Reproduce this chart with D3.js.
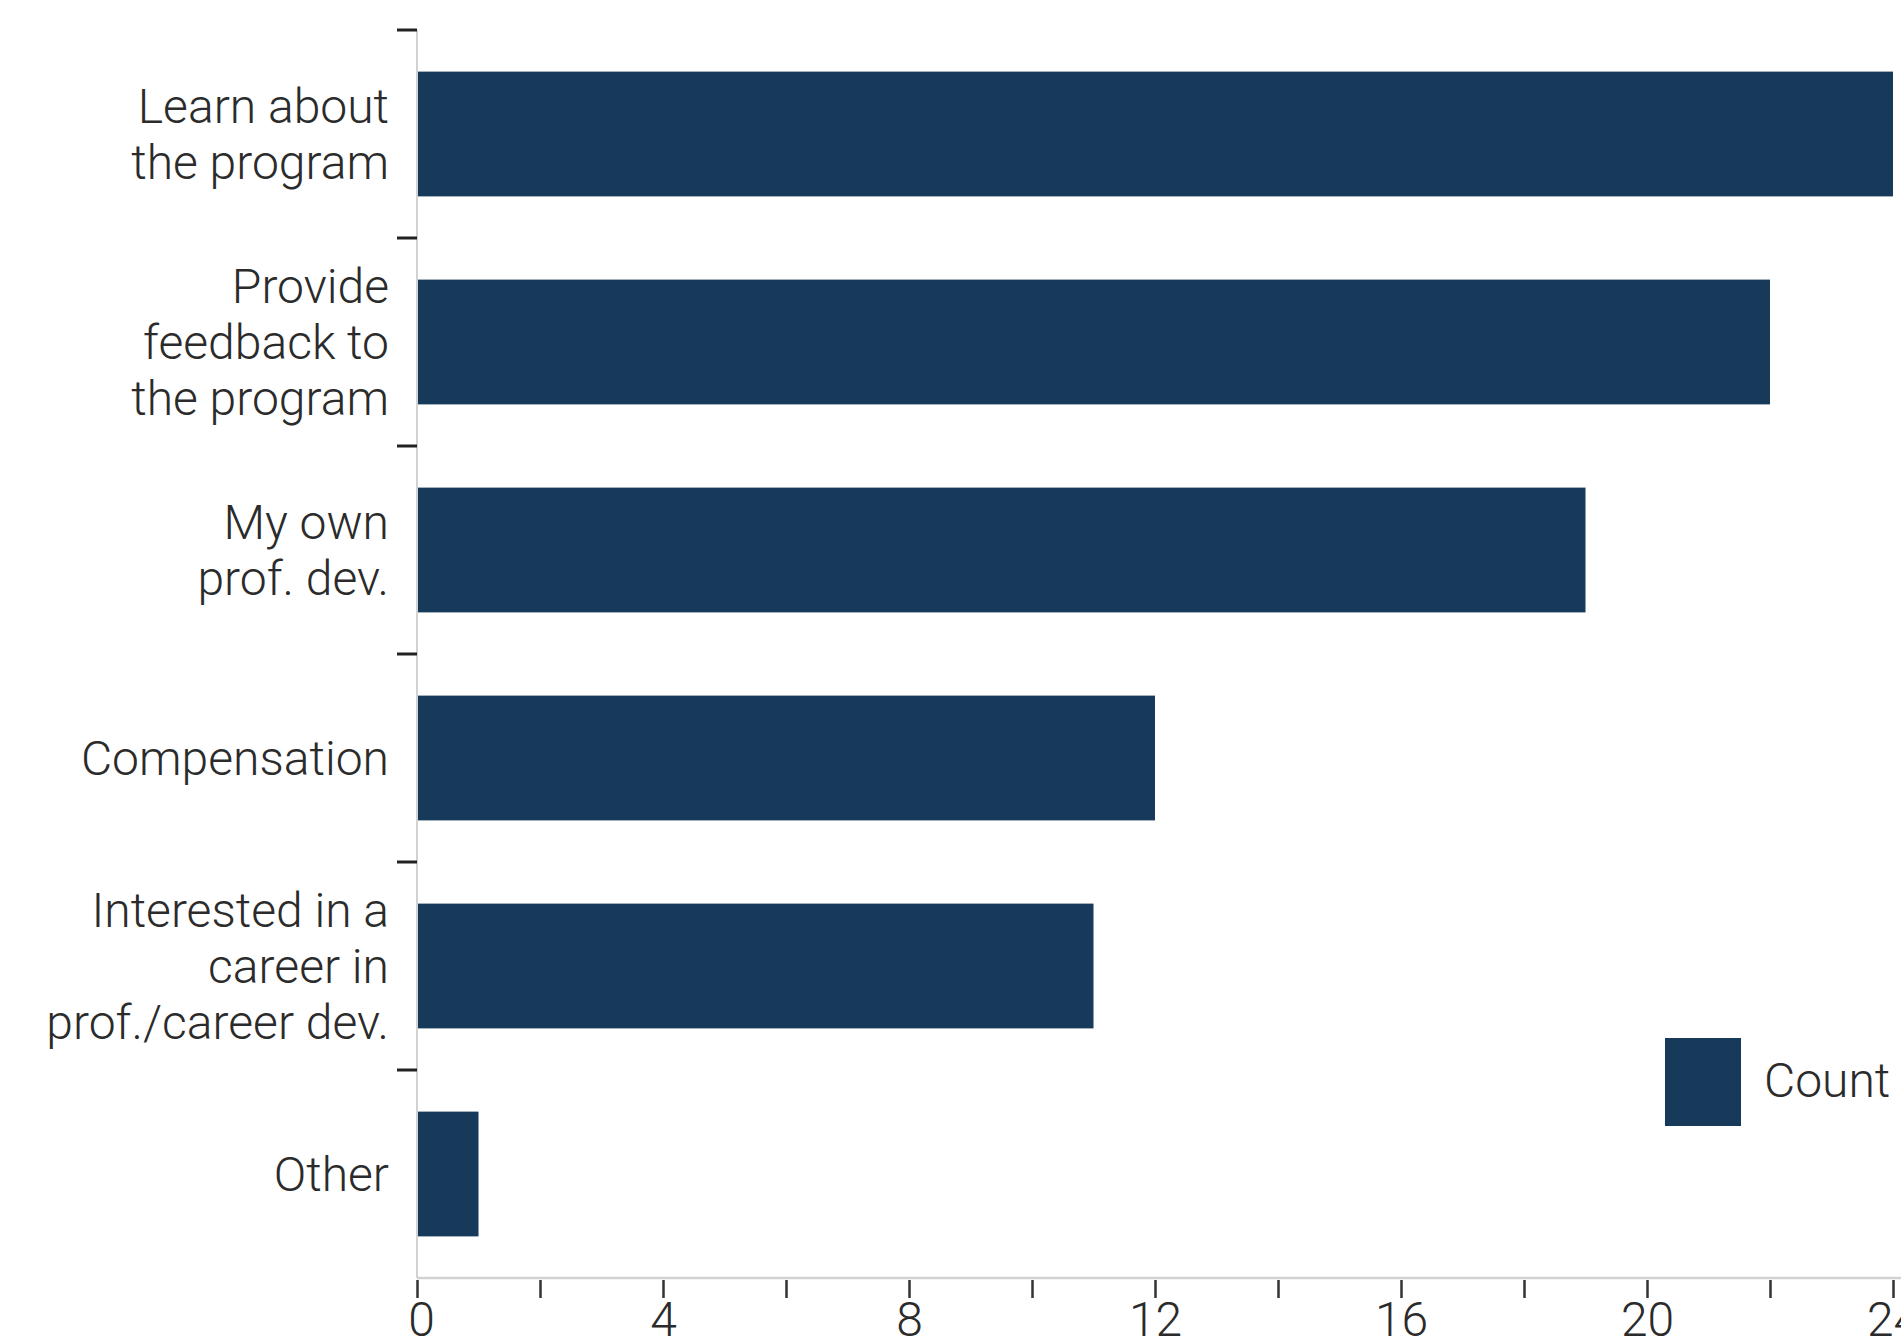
<!DOCTYPE html>
<html>
<head>
<meta charset="utf-8">
<script src="https://cdn.jsdelivr.net/npm/d3@7"></script>
<style>
  html, body { margin: 0; padding: 0; background: #fff; }
  svg { display: block; }
  text { font-family: Roboto, "Noto Sans", sans-serif; font-weight: 300; fill: #2b2b2b; }
</style>
</head>
<body>
<svg id="chart" width="1901" height="1342"></svg>
<script>
// Survey reasons for taking part, counted per response
const categories = [
  "Learn about\nthe program",
  "Provide\nfeedback to\nthe program",
  "My own\nprof. dev.",
  "Compensation",
  "Interested in a\ncareer in\nprof./career dev.",
  "Other"
];
const counts = [24, 22, 19, 12, 11, 1];
const xTickValues = [0, 2, 4, 6, 8, 10, 12, 14, 16, 18, 20, 22, 24];
const xLabelValues = [0, 4, 8, 12, 16, 20, 24];
const legendLabel = "Count";

const barColor = "#173a5a";
const svg = d3.select("#chart");

const plotLeft = 417, plotRight = 1893, plotTop = 30, plotBottom = 1278;

const x = d3.scaleLinear().domain([0, 24]).range([plotLeft, plotRight]);
const y = d3.scaleBand()
  .domain(categories)
  .range([plotTop, plotBottom])
  .paddingInner(0.4)
  .paddingOuter(0.2);

// Bars
svg.append("g")
  .selectAll("rect")
  .data(categories.map((c, i) => ({ c, v: counts[i] })))
  .join("rect")
  .attr("x", x(0))
  .attr("y", d => y(d.c))
  .attr("width", d => x(d.v) - x(0))
  .attr("height", y.bandwidth())
  .attr("fill", barColor);

// Axis lines
svg.append("line")
  .attr("x1", plotLeft).attr("x2", plotLeft)
  .attr("y1", plotTop).attr("y2", plotBottom)
  .attr("stroke", "#d2d2d2").attr("stroke-width", 2);

svg.append("line")
  .attr("x1", plotLeft).attr("x2", 1901)
  .attr("y1", plotBottom).attr("y2", plotBottom)
  .attr("stroke", "#d2d2d2").attr("stroke-width", 2.5);

// Bottom axis: ticks every 2, labels every 4 (labels run off the lower edge)
const xAxis = d3.axisBottom(x)
  .tickValues(xTickValues)
  .tickSize(18)
  .tickPadding(18)
  .tickFormat(d => xLabelValues.includes(d) ? d3.format("d")(d) : "");

const gx = svg.append("g")
  .attr("transform", `translate(0,${plotBottom + 2})`)
  .call(xAxis);
gx.select(".domain").remove();
gx.selectAll(".tick line").attr("stroke", "#333").attr("stroke-width", 2.5);
gx.selectAll(".tick text")
  .style("font-family", "Roboto, sans-serif")
  .style("font-weight", 300)
  .style("font-size", "48px")
  .attr("fill", "#2b2b2b")
  .attr("dy", "0.71em")
  .attr("y", 22);
gx.selectAll(".tick")
  .filter(d => d === 0)
  .select("text").attr("x", 4);

// Left-side separator ticks between categories
const step = y.step();
const boundaries = categories.map((c, i) => y(c) - step * y.paddingInner() / 2);
boundaries[0] = plotTop;
svg.append("g")
  .selectAll("line")
  .data(boundaries)
  .join("line")
  .attr("x1", plotLeft - 20).attr("x2", plotLeft)
  .attr("y1", d => d).attr("y2", d => d)
  .attr("stroke", "#222").attr("stroke-width", 3);

// Category labels, wrapped
const lineGap = 56;
const labels = svg.append("g")
  .selectAll("text")
  .data(categories)
  .join("text")
  .attr("text-anchor", "end")
  .style("font-size", "48px");

labels.each(function (c) {
  const lines = c.split("\n");
  const cy = y(c) + y.bandwidth() / 2;
  const t = d3.select(this);
  lines.forEach((ln, i) => {
    t.append("tspan")
      .attr("x", 389)
      .attr("y", cy + 17 + (i - (lines.length - 1) / 2) * lineGap)
      .text(ln);
  });
});

// Legend
const legend = svg.append("g");
legend.append("rect")
  .attr("x", 1665).attr("y", 1038)
  .attr("width", 76).attr("height", 88)
  .attr("fill", barColor);
legend.append("text")
  .attr("x", 1764).attr("y", 1097)
  .style("font-size", "48px")
  .text(legendLabel);
</script>
</body>
</html>
